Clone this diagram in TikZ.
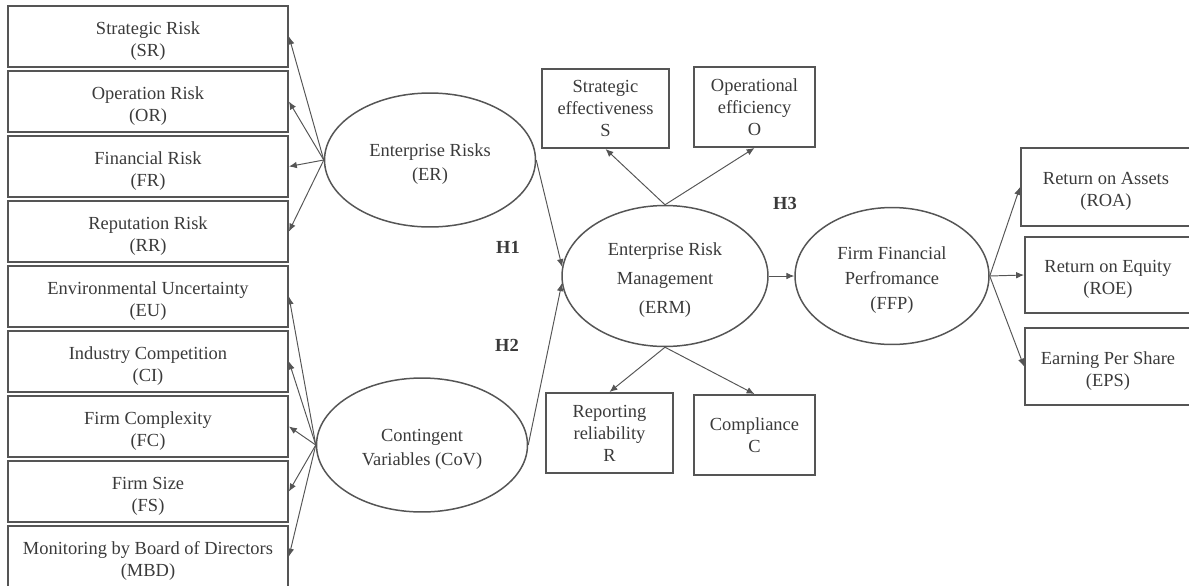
\documentclass[tikz,border=0pt]{standalone}
\usepackage{fontspec}
\setmainfont{Liberation Serif}
\usetikzlibrary{shapes.geometric,arrows.meta}
\definecolor{inkgray}{HTML}{3A3A3A}
\definecolor{linegray}{HTML}{555555}
\newcommand{\toppad}{\rule{0pt}{12pt}}
\begin{document}
\begin{tikzpicture}[x=0.02cm,y=-0.02cm,
    every node/.style={font=\fontsize{10.5}{12.5}\selectfont,text=inkgray,align=center,inner sep=0pt},
    box/.style={draw=linegray,line width=1.1pt,rectangle},
    oval/.style={draw=linegray,line width=0.85pt,ellipse,font=\fontsize{10.5}{14}\selectfont},
    link/.style={draw=linegray,line width=0.55pt,-{Latex[length=4.5pt,width=3.8pt]}}]
					\useasboundingbox (0,0) rectangle (1189,585);

					% indicators of the two exogenous constructs
					\node[box,minimum width=5.6cm,minimum height=1.22cm] (sr) at (148,36.5) {\toppad Strategic Risk\\(SR)};
					\node[box,minimum width=5.6cm,minimum height=1.22cm] (or) at (148,101.5) {\toppad Operation Risk\\(OR)};
					\node[box,minimum width=5.6cm,minimum height=1.22cm] (fr) at (148,166.5) {\toppad Financial Risk\\(FR)};
					\node[box,minimum width=5.6cm,minimum height=1.22cm] (rr) at (148,231.5) {\toppad Reputation Risk\\(RR)};
					\node[box,minimum width=5.6cm,minimum height=1.22cm] (eu) at (148,296.5) {\toppad Environmental Uncertainty\\(EU)};
					\node[box,minimum width=5.6cm,minimum height=1.22cm] (ci) at (148,361.5) {\toppad Industry Competition\\(CI)};
					\node[box,minimum width=5.6cm,minimum height=1.22cm] (fc) at (148,426.5) {\toppad Firm Complexity\\(FC)};
					\node[box,minimum width=5.6cm,minimum height=1.22cm] (fs) at (148,491.5) {\toppad Firm Size\\(FS)};
					\node[box,minimum width=5.6cm,minimum height=1.22cm] (mbd) at (148,556.5) {\toppad Monitoring by Board of Directors\\(MBD)};

					\node[oval,minimum width=4.22cm,minimum height=2.68cm] (er) at (430,160) {\toppad Enterprise Risks\\(ER)};
					\node[oval,minimum width=4.22cm,minimum height=2.68cm] (cov) at (422,445) {\toppad Contingent\\Variables (CoV)};

					% mediator and its dimensions
					\node[oval,minimum width=4.12cm,minimum height=2.82cm] (erm) at (665,276) {\toppad Enterprise Risk\\[2.5pt]Management\\[2.5pt](ERM)};
					\node[box,minimum width=2.54cm,minimum height=1.58cm] (s) at (605.5,108.5) {Strategic\\effectiveness\\S};
					\node[box,minimum width=2.42cm,minimum height=1.6cm] (o) at (754.5,107) {Operational\\efficiency\\O};
					\node[box,minimum width=2.54cm,minimum height=1.6cm] (r) at (609.5,433) {Reporting\\reliability\\R};
					\node[box,minimum width=2.42cm,minimum height=1.6cm] (c) at (754.5,435) {Compliance\\C};

					% outcome
					\node[oval,minimum width=3.88cm,minimum height=2.74cm] (ffp) at (892,276) {\toppad Firm Financial\\Perfromance\\(FFP)};
					\node[box,minimum width=3.4cm,minimum height=1.56cm] (roa) at (1106,187) {\toppad Return on Assets\\(ROA)};
					\node[box,minimum width=3.32cm,minimum height=1.52cm] (roe) at (1108,275) {\toppad Return on Equity\\(ROE)};
					\node[box,minimum width=3.32cm,minimum height=1.54cm] (eps) at (1108,366.5) {\toppad Earning Per Share\\(EPS)};

					\node[font=\fontsize{10.5}{12.5}\selectfont\bfseries] (h1) at (508,247) {H1};
					\node[font=\fontsize{10.5}{12.5}\selectfont\bfseries] (h2) at (507,345) {H2};
					\node[font=\fontsize{10.5}{12.5}\selectfont\bfseries] (h3) at (785,203) {H3};

					\draw[link] (er.west) -- (sr.east);
					\draw[link] (er.west) -- (or.east);
					\draw[link] (er.west) -- (fr.east);
					\draw[link] (er.west) -- (rr.east);

					\draw[link] (cov.west) -- (eu.east);
					\draw[link] (cov.west) -- (ci.east);
					\draw[link] (cov.west) -- (fc.east);
					\draw[link] (cov.west) -- (fs.east);
					\draw[link] (cov.west) -- (mbd.east);

					\draw[link] (er.east) -- (erm.175);
					\draw[link] (cov.east) -- (erm.184);

					\draw[link] (erm.north) -- (s.south);
					\draw[link] (erm.north) -- (o.south);
					\draw[link] (erm.south) -- (r.north);
					\draw[link] (erm.south) -- (c.north);
					\draw[link] (erm.east) -- (ffp.west);

					\draw[link] (ffp.east) -- (roa.west);
					\draw[link] (ffp.east) -- (roe.west);
					\draw[link] (ffp.east) -- (eps.west);
				\end{tikzpicture}
\end{document}
